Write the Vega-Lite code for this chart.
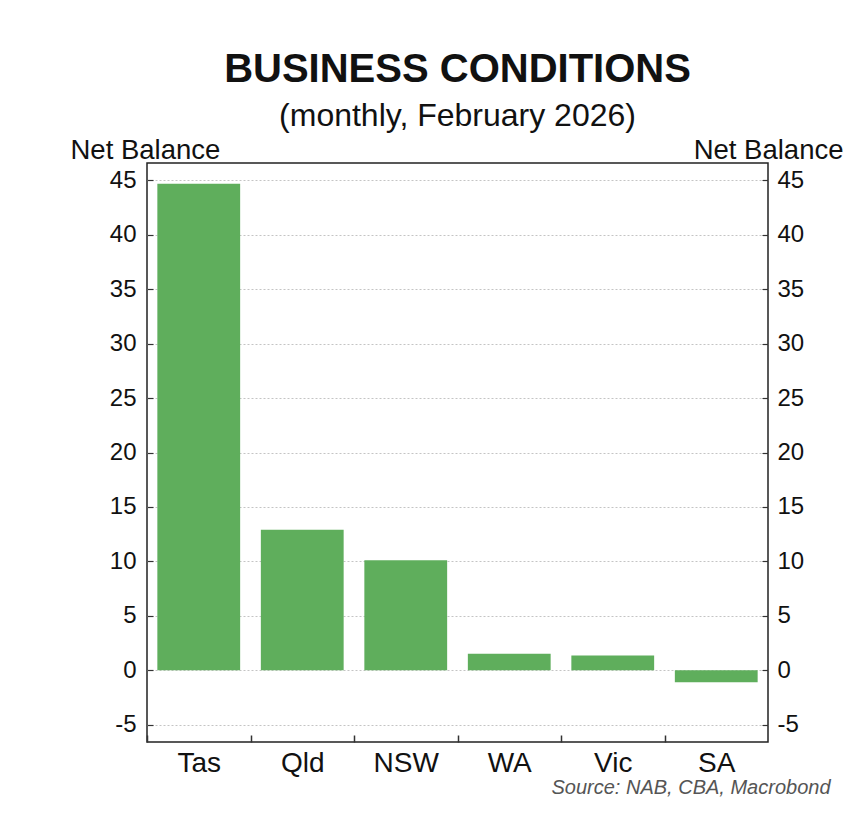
{
  "$schema": "https://vega.github.io/schema/vega-lite/v6.json",
  "width": 621,
  "height": 579,
  "autosize": "none",
  "padding": {"left": 147, "top": 163, "right": 98, "bottom": 95},
  "background": "white",
  "config": {
    "font": "Liberation Sans",
    "view": {"stroke": "#222222", "strokeWidth": 1.5}
  },
  "title": {
    "text": "BUSINESS CONDITIONS",
    "subtitle": "(monthly, February 2026)",
    "anchor": "middle",
    "font": "Liberation Sans",
    "fontSize": 40,
    "fontWeight": "bold",
    "color": "#111111",
    "subtitleFont": "Liberation Sans",
    "subtitleFontSize": 32,
    "subtitleColor": "#111111",
    "subtitlePadding": 11,
    "offset": 4
  },
  "data": {
    "values": [
      {"state": "Tas", "value": 44.7},
      {"state": "Qld", "value": 12.9},
      {"state": "NSW", "value": 10.1},
      {"state": "WA", "value": 1.5},
      {"state": "Vic", "value": 1.35},
      {"state": "SA", "value": -1.1}
    ]
  },
  "encoding": {
    "x": {
      "field": "state",
      "type": "nominal",
      "sort": null,
      "scale": {"paddingInner": 0.2, "paddingOuter": 0.1},
      "axis": {
        "orient": "bottom",
        "domain": false,
        "grid": false,
        "bandPosition": 0,
        "tickOffset": -10.35,
        "labelOffset": 10.35,
        "tickSize": -7,
        "tickColor": "#333333",
        "tickWidth": 1.5,
        "labelAngle": 0,
        "labelFontSize": 28,
        "labelColor": "#111111",
        "labelPadding": 14,
        "title": "Source: NAB, CBA, Macrobond",
        "titleFontSize": 20,
        "titleFontStyle": "italic",
        "titleFontWeight": "normal",
        "titleColor": "#555555",
        "titleAlign": "right",
        "titleBaseline": "alphabetic",
        "titleX": 683,
        "titleY": 51
      }
    }
  },
  "layer": [
    {
      "mark": {"type": "bar", "color": "#5fae5c"},
      "encoding": {
        "y": {
          "field": "value",
          "type": "quantitative",
          "scale": {"domain": [-6.6, 46.6], "nice": false, "zero": false},
          "axis": {
            "orient": "left",
            "values": [-5, 0, 5, 10, 15, 20, 25, 30, 35, 40, 45],
            "labelExpr": "datum.value < 0 ? '-' + abs(datum.value) : datum.label",
            "domain": false,
            "grid": true,
            "gridColor": "#c4c4c4",
            "gridDash": [2, 2],
            "gridWidth": 1,
            "tickSize": -6,
            "tickColor": "#333333",
            "tickWidth": 1.2,
            "labelFontSize": 24,
            "labelColor": "#111111",
            "labelPadding": 17,
            "title": "Net Balance",
            "titleAngle": 0,
            "titleAlign": "left",
            "titleBaseline": "alphabetic",
            "titleX": -77,
            "titleY": -5,
            "titleFontSize": 27.5,
            "titleFontWeight": "normal",
            "titleColor": "#111111"
          }
        }
      }
    },
    {
      "mark": {"type": "bar", "opacity": 0},
      "encoding": {
        "y": {
          "field": "value",
          "type": "quantitative",
          "scale": {"domain": [-6.6, 46.6], "nice": false, "zero": false},
          "axis": {
            "orient": "right",
            "values": [-5, 0, 5, 10, 15, 20, 25, 30, 35, 40, 45],
            "labelExpr": "datum.value < 0 ? '-' + abs(datum.value) : datum.label",
            "domain": false,
            "grid": false,
            "tickSize": -6,
            "tickColor": "#333333",
            "tickWidth": 1.2,
            "labelFontSize": 24,
            "labelColor": "#111111",
            "labelPadding": 15,
            "title": "Net Balance",
            "titleAngle": 0,
            "titleAlign": "right",
            "titleBaseline": "alphabetic",
            "titleX": 75,
            "titleY": -5,
            "titleFontSize": 27.5,
            "titleFontWeight": "normal",
            "titleColor": "#111111"
          }
        }
      }
    }
  ],
  "resolve": {"scale": {"y": "independent"}}
}
